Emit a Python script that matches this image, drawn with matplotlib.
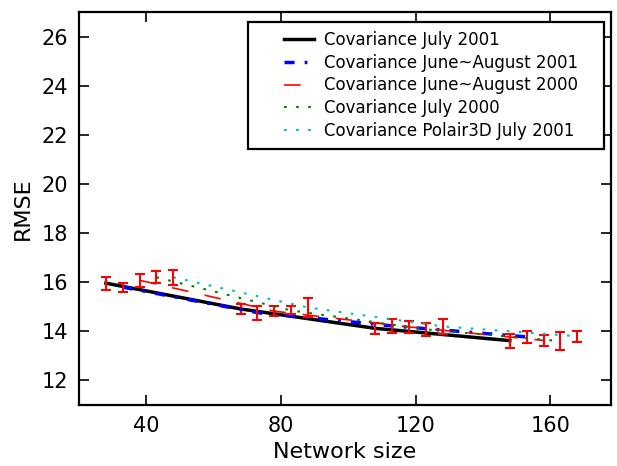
import matplotlib
matplotlib.use("Agg")
import matplotlib.pyplot as plt
from matplotlib.path import Path

# network sizes (each series shifted a bit so the error bars don't overlap)
x_jul01 = [28, 68, 108, 148]
x_junaug01 = [33, 73, 113, 153]
x_junaug00 = [38, 78, 118, 158]
x_jul00 = [43, 83, 123, 163]
x_polair = [48, 88, 128, 168]

# RMSE values and error bar half widths
rmse_jul01 = [15.96, 14.91, 14.12, 13.62]
err_jul01 = [0.27, 0.22, 0.23, 0.28]
rmse_junaug01 = [15.80, 14.76, 14.22, 13.77]
err_junaug01 = [0.18, 0.29, 0.30, 0.26]
rmse_junaug00 = [16.08, 14.82, 14.18, 13.63]
err_junaug00 = [0.26, 0.20, 0.24, 0.23]
rmse_jul00 = [16.20, 14.85, 14.08, 13.60]
err_jul00 = [0.24, 0.16, 0.26, 0.37]
rmse_polair = [16.20, 14.97, 14.20, 13.80]
err_polair = [0.30, 0.37, 0.32, 0.23]

labels = ["Covariance July 2001",
          "Covariance June~August 2001",
          "Covariance June~August 2000",
          "Covariance July 2000",
          "Covariance Polair3D July 2001"]

fig = plt.figure(figsize=(6.17, 4.66), dpi=100)
ax = fig.add_axes([0.128, 0.131, 0.862, 0.843])

series = [
    (x_jul01, rmse_jul01, err_jul01, dict(color="k", lw=2.5, ls="-")),
    (x_junaug01, rmse_junaug01, err_junaug01, dict(color="b", lw=2.5, ls=(0, (2.9, 2.9, 0.8, 2.9)))),
    (x_junaug00, rmse_junaug00, err_junaug00, dict(color="r", lw=1.2, ls=(0, (10, 10)))),
    (x_jul00, rmse_jul00, err_jul00, dict(color="g", lw=1.5, ls=(0, (1.3, 4.5)))),
    (x_polair, rmse_polair, err_polair, dict(color="c", lw=1.5, ls=(0, (1.3, 4.5)))),
]

for (xs, ys, es, style), lab in zip(series, labels):
    ax.plot(xs, ys, label=lab, **style)
    ax.errorbar(xs, ys, yerr=es, fmt="none", ecolor="r", elinewidth=1.5,
                capsize=3.5, capthick=1.5)

ax.set_xlim(20, 178)
ax.set_ylim(11, 27)
ax.set_xticks([40, 80, 120, 160])
ax.set_yticks([12, 14, 16, 18, 20, 22, 24, 26])
ax.tick_params(direction="in", length=7, width=1.2, labelsize=15, pad=8,
               top=True, right=True)
for s in ax.spines.values():
    s.set_linewidth(1.6)

ax.set_xlabel("Network size", fontsize=16, labelpad=4)
ax.set_ylabel("RMSE", fontsize=16, labelpad=6)


# old style legend frame: more room left and right than above and below
def wide_box(x0, y0, width, height, mutation_size):
    left = x0 - 1.6 * mutation_size
    right = x0 + width + 1.05 * mutation_size
    top = y0 + height
    return Path([(left, y0), (right, y0), (right, top), (left, top), (left, y0)],
                closed=True)


leg = ax.legend(loc="upper right", bbox_to_anchor=(0.955, 0.975), borderaxespad=0,
                fontsize=12, fancybox=False, framealpha=1, edgecolor="k",
                borderpad=0.55, handlelength=1.8, handletextpad=0.6, labelspacing=0.28)
leg.get_frame().set_boxstyle(wide_box)
leg.get_frame().set_linewidth(1.6)

fig.savefig("out.png", dpi=100)
